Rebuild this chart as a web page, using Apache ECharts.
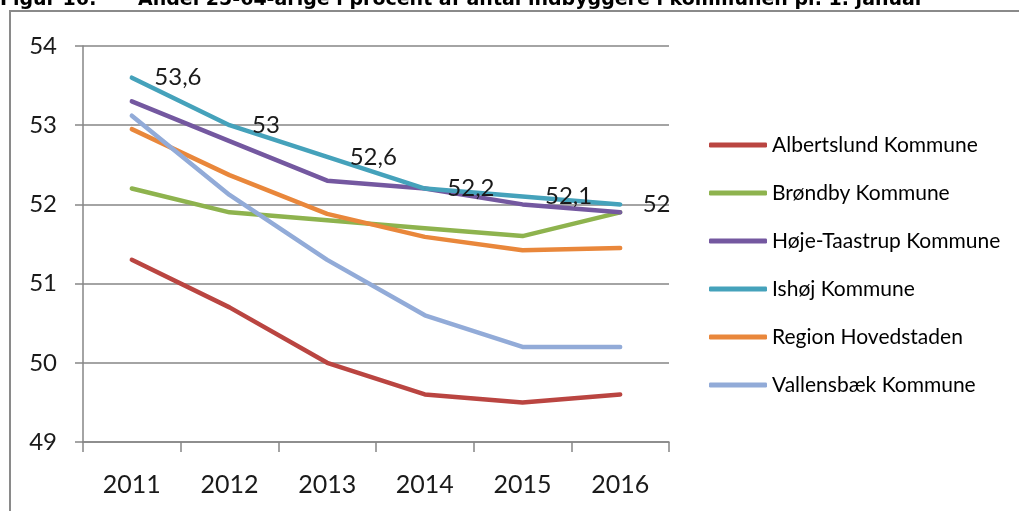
<!DOCTYPE html>
<html>
<head>
<meta charset="utf-8">
<script src="https://cdn.jsdelivr.net/npm/echarts@6/dist/echarts.min.js"></script>
<style>html,body{margin:0;padding:0;background:#fff}#chart{width:1019px;height:511px}</style>
</head>
<body>
<div id="chart"></div>
<script>
var titleLead = 'Figur 16:';
var titleText = 'Andel 25-64-årige i procent af antal indbyggere i kommunen pr. 1. januar';
var years = ['2011', '2012', '2013', '2014', '2015', '2016'];
var seriesNames = ['Albertslund Kommune', 'Brøndby Kommune', 'Høje-Taastrup Kommune', 'Ishøj Kommune', 'Region Hovedstaden', 'Vallensbæk Kommune'];
var albertslund = [51.3, 50.7, 50.0, 49.6, 49.5, 49.6];
var broendby = [52.2, 51.9, 51.8, 51.7, 51.6, 51.9];
var hoejeTaastrup = [53.3, 52.8, 52.3, 52.2, 52.0, 51.9];
var ishoej = [53.6, 53.0, 52.6, 52.2, 52.1, 52.0];
var regionH = [52.95, 52.37, 51.88, 51.59, 51.42, 51.45];
var vallensbaek = [53.12, 52.12, 51.3, 50.6, 50.2, 50.2];
var yTicks = [49, 50, 51, 52, 53, 54];
var colors = ['#BA4541', '#8EB34E', '#7458A0', '#45A2BB', '#E9873B', '#92ABD8'];
var labelled = [false, false, false, true, false, false];
var allData = [albertslund, broendby, hoejeTaastrup, ishoej, regionH, vallensbaek];

var chart = echarts.init(document.getElementById('chart'), null, {renderer: 'canvas'});
var font = 'Lato, "Open Sans", sans-serif';
var titleFont = 'bold 19px "DejaVu Sans", Verdana, sans-serif';
var series = seriesNames.map(function (n, i) {
  return {
    name: n, type: 'line', data: allData[i], symbol: 'circle', symbolSize: 1, showSymbol: true,
    lineStyle: {width: 4.5, color: colors[i], cap: 'round', join: 'round'},
    itemStyle: {color: colors[i]},
    label: {
      show: labelled[i], position: 'right', distance: 22,
      fontFamily: font, fontSize: 24, color: '#1a1a1a',
      formatter: function (p) { return String(p.value).replace('.', ','); }
    },
    emphasis: {disabled: true}
  };
});
chart.setOption({
  animation: false,
  graphic: [
    {type: 'rect', shape: {x: 10, y: 11, width: 1020, height: 520}, style: {fill: 'none', stroke: '#8a8a8a', lineWidth: 2}, z: -1},
    {type: 'text', x: 0, y: 0, style: {text: titleLead, font: titleFont, fill: '#000', verticalAlign: 'middle'}},
    {type: 'text', x: 138, y: 0, style: {text: titleText, font: titleFont, fill: '#000', verticalAlign: 'middle'}}
  ],
  grid: {left: 83, right: 350, top: 46, bottom: 69, containLabel: false},
  legend: {
    orient: 'vertical', left: 704, top: 128,
    icon: 'roundRect', itemWidth: 58, itemHeight: 5, itemGap: 24,
    textStyle: {fontFamily: font, fontSize: 21, color: '#000', lineHeight: 24},
    data: seriesNames
  },
  xAxis: {
    type: 'category', data: years, boundaryGap: true,
    axisLine: {lineStyle: {color: '#868686', width: 1.5}},
    axisTick: {show: true, length: 10, lineStyle: {color: '#868686', width: 1.5}},
    axisLabel: {fontFamily: font, fontSize: 25, color: '#1a1a1a', margin: 30}
  },
  yAxis: {
    type: 'value', min: yTicks[0], max: yTicks[yTicks.length - 1], interval: 1,
    axisLine: {show: true, lineStyle: {color: '#868686', width: 1.5}},
    axisTick: {show: true, length: 8, lineStyle: {color: '#868686', width: 1.5}},
    axisLabel: {fontFamily: font, fontSize: 24, color: '#1a1a1a', margin: 26},
    splitLine: {lineStyle: {color: '#868686', width: 1.5}}
  },
  series: series
});
</script>
</body>
</html>
